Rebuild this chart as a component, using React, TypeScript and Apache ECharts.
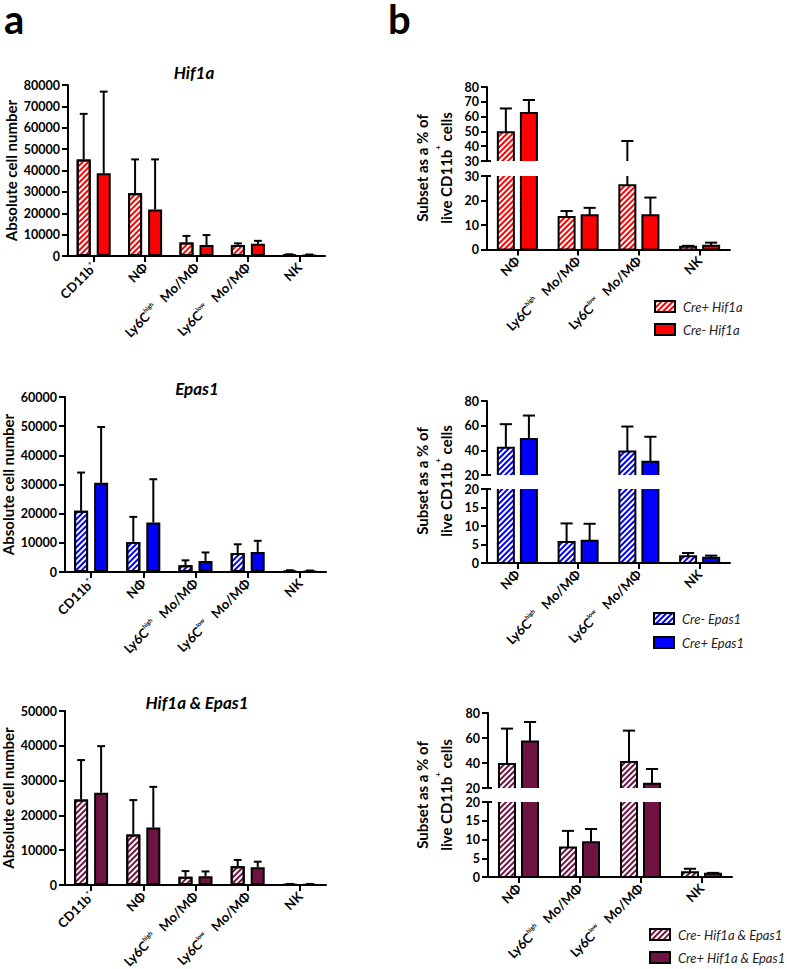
import React, { useEffect, useRef } from 'react';
import * as echarts from 'echarts';

// ---------- categories ----------
const catsA = ['CD11b+', 'NΦ', 'Ly6Chigh Mo/MΦ', 'Ly6Clow Mo/MΦ', 'NK'];
const catsB = ['NΦ', 'Ly6Chigh Mo/MΦ', 'Ly6Clow Mo/MΦ', 'NK'];

// ---------- panel a: absolute cell number (mean, error) ----------
const hifAbsCreP = [45200, 29300, 6300, 5200, 600];
const hifAbsCrePErr = [21300, 15900, 3100, 700, 200];
const hifAbsCreM = [38700, 21800, 5100, 5700, 500];
const hifAbsCreMErr = [38200, 23400, 4700, 1400, 200];

const epasAbsCreM = [21000, 10300, 2300, 6500, 400];
const epasAbsCreMErr = [13100, 8600, 1700, 3000, 200];
const epasAbsCreP = [30600, 17000, 3800, 6900, 400];
const epasAbsCrePErr = [19100, 14800, 2900, 3800, 100];

const dkoAbsCreM = [24600, 14500, 2400, 5400, 200];
const dkoAbsCreMErr = [11300, 9900, 1600, 1800, 100];
const dkoAbsCreP = [26500, 16500, 2500, 5100, 200];
const dkoAbsCrePErr = [13400, 11700, 1400, 1600, 100];

// ---------- panel b: % of live CD11b+ (mean, error) ----------
const hifPctCreP = [49.5, 13.3, 26.2, 1.1];
const hifPctCrePErr = [16.0, 2.4, 17.3, 0.4];
const hifPctCreM = [62.4, 14.0, 14.0, 1.5];
const hifPctCreMErr = [8.8, 3.0, 7.2, 1.3];

const epasPctCreM = [42.1, 5.7, 39.1, 1.8];
const epasPctCreMErr = [19.1, 5.0, 20.2, 0.9];
const epasPctCreP = [49.1, 6.0, 30.8, 1.4];
const epasPctCrePErr = [19.1, 4.6, 20.2, 0.6];

const dkoPctCreM = [39.2, 7.9, 40.8, 1.3];
const dkoPctCreMErr = [28.3, 4.4, 25.1, 0.9];
const dkoPctCreP = [57.3, 9.3, 23.5, 0.9];
const dkoPctCrePErr = [15.5, 3.5, 11.7, 0.2];

// ---------- axis ranges [min, max, interval] ----------
const hifAbsAxis = [0, 80000, 10000];
const epasAbsAxis = [0, 60000, 10000];
const dkoAbsAxis = [0, 50000, 10000];
const hifPctLower = [0, 30, 10];
const hifPctUpper = [30, 80, 10];
const epasPctLower = [0, 20, 5];
const epasPctUpper = [20, 80, 20];
const dkoPctLower = [0, 20, 5];
const dkoPctUpper = [20, 80, 20];

// ---------- titles / legend names ----------
const titles = ['Hif1a', 'Epas1', 'Hif1a & Epas1'];
const legendHif = ['Cre+ Hif1a', 'Cre- Hif1a'];
const legendEpas = ['Cre- Epas1', 'Cre+ Epas1'];
const legendDko = ['Cre- Hif1a & Epas1', 'Cre+ Hif1a & Epas1'];

const RED = '#FF0000';
const BLUE = '#0000FF';
const MAROON = '#6E1342';
const FONT = 'Lato';

function catLabel(v: string) {
  let m = v.match(/^(CD11b)\+$/);
  if (m) return `{n|${m[1]}}{sup|+}`;
  m = v.match(/^(Ly6C)(high|low) (.*)$/);
  if (m) return `{n|${m[1]}}{sup|${m[2]}}{n|   ${m[3]}}`;
  return `{n|${v}}`;
}

const richX = {
  n: { fontFamily: FONT, fontWeight: 'bold', fontSize: 13, color: '#000', lineHeight: 15 },
  sup: { fontFamily: FONT, fontWeight: 'bold', fontSize: 6, color: '#000', verticalAlign: 'top', lineHeight: 6 },
};

function stripes(color: string) {
  return {
    symbol: 'rect',
    symbolSize: 1,
    color,
    dashArrayX: [1, 0],
    dashArrayY: [1.5, 1.5],
    rotation: -Math.PI / 4,
  };
}

function buildOption() {
  const grid: any[] = [];
  const xAxis: any[] = [];
  const yAxis: any[] = [];
  const series: any[] = [];
  const graphic: any[] = [];

  const axisLineStyle = { color: '#000', width: 2 };

  function addGrid(rect: any, cats: string[], range: number[], showX: boolean, yName?: string) {
    const gi = grid.length;
    grid.push({ ...rect, outerBoundsMode: 'none', containLabel: false });
    xAxis.push({
      type: 'category',
      gridIndex: gi,
      data: cats,
      show: showX,
      axisLine: { show: true, lineStyle: axisLineStyle },
      axisTick: { show: true, alignWithLabel: true, length: 6, lineStyle: axisLineStyle },
      axisLabel: { rotate: 45, interval: 0, margin: 9, formatter: catLabel, rich: richX },
      splitLine: { show: false },
    });
    yAxis.push({
      type: 'value',
      gridIndex: gi,
      min: range[0],
      max: range[1],
      interval: range[2],
      axisLine: { show: true, lineStyle: axisLineStyle },
      axisTick: { show: true, length: 6, lineStyle: axisLineStyle },
      axisLabel: {
        fontFamily: FONT, fontWeight: 'bold', fontSize: 12.5, color: '#000', margin: 8,
        formatter: (v: number) => String(v),
      },
      splitLine: { show: false },
      name: yName,
      nameLocation: 'middle',
      nameGap: 50,
      nameTextStyle: { fontFamily: FONT, fontWeight: 'bold', fontSize: 15, color: '#000' },
    });
    return gi;
  }

  function errRender(offset: number, capHalf: number, yMin: number, yMax: number) {
    return (params: any, api: any) => {
      const ci = api.value(0);
      const m = api.value(1);
      const e = api.value(2);
      const lo = Math.max(m, yMin);
      const hi = Math.min(m + e, yMax);
      if (hi <= lo) return null;
      const p1 = api.coord([ci, lo]);
      const p2 = api.coord([ci, hi]);
      const x = p1[0] + offset;
      const children: any[] = [
        { type: 'line', shape: { x1: x, y1: p1[1], x2: x, y2: p2[1] }, style: { stroke: '#000', lineWidth: 2 } },
      ];
      if (m + e <= yMax) {
        children.push({ type: 'line', shape: { x1: x - capHalf, y1: p2[1], x2: x + capHalf, y2: p2[1] }, style: { stroke: '#000', lineWidth: 2 } });
      }
      return { type: 'group', children };
    };
  }

  function frameRender(offset: number, halfW: number, yMin: number, yMax: number) {
    return (params: any, api: any) => {
      const ci = api.value(0);
      const m = api.value(1);
      const lo = Math.max(0, yMin);
      const hi = Math.min(m, yMax);
      if (hi <= lo) return null;
      const p1 = api.coord([ci, lo]);
      const p2 = api.coord([ci, hi]);
      const x = p1[0] + offset;
      const st = { stroke: '#000', lineWidth: 2, fill: null };
      const children: any[] = [];
      if (m <= yMax) {
        children.push({ type: 'polyline', shape: { points: [[x - halfW, p1[1]], [x - halfW, p2[1]], [x + halfW, p2[1]], [x + halfW, p1[1]]] }, style: st });
      } else {
        children.push({ type: 'line', shape: { x1: x - halfW, y1: p1[1], x2: x - halfW, y2: p2[1] }, style: st });
        children.push({ type: 'line', shape: { x1: x + halfW, y1: p1[1], x2: x + halfW, y2: p2[1] }, style: st });
      }
      if (yMin <= 0) {
        children.push({ type: 'line', shape: { x1: x - halfW, y1: p1[1], x2: x + halfW, y2: p1[1] }, style: st });
      }
      return { type: 'group', children };
    };
  }

  function addBars(gi: number, name: string, means: number[], errs: number[], color: string, hatched: boolean,
    barW: number, gapFrac: number, idx: number, range: number[], framed: boolean, capFrac: number) {
    const offset = (idx === 0 ? -1 : 1) * barW * (1 + gapFrac) / 2;
    series.push({
      type: 'bar',
      name,
      xAxisIndex: gi,
      yAxisIndex: gi,
      data: means,
      barWidth: barW,
      barGap: `${gapFrac * 100}%`,
      clip: true,
      silent: true,
      z: 2,
      itemStyle: hatched
        ? { color: '#FFFFFF', borderColor: '#000', borderWidth: framed ? 0 : 2, decal: stripes(color) }
        : { color, borderColor: '#000', borderWidth: framed ? 0 : 2 },
    });
    const d = means.map((m, i) => [i, m, errs[i]]);
    if (framed) {
      series.push({
        type: 'custom',
        name: name + ' frame',
        xAxisIndex: gi,
        yAxisIndex: gi,
        data: d,
        z: 3,
        silent: true,
        encode: { x: 0, y: 1 },
        renderItem: frameRender(offset, barW / 2, range[0], range[1]),
      });
    }
    series.push({
      type: 'custom',
      name: name + ' error',
      xAxisIndex: gi,
      yAxisIndex: gi,
      data: d,
      z: 4,
      silent: true,
      encode: { x: 0, y: 1 },
      renderItem: errRender(offset, barW * capFrac, range[0], range[1]),
    });
  }

  // ----- panel a -----
  const aBarW = 14;
  const aGap = 0.43;
  const aPanels = [
    { rect: { left: 68, top: 85, width: 257, height: 171 }, range: hifAbsAxis, color: RED,
      s: [[legendHif[0], hifAbsCreP, hifAbsCrePErr, true], [legendHif[1], hifAbsCreM, hifAbsCreMErr, false]] },
    { rect: { left: 65, top: 397, width: 261, height: 175 }, range: epasAbsAxis, color: BLUE,
      s: [[legendEpas[0], epasAbsCreM, epasAbsCreMErr, true], [legendEpas[1], epasAbsCreP, epasAbsCrePErr, false]] },
    { rect: { left: 65, top: 711, width: 261, height: 174 }, range: dkoAbsAxis, color: MAROON,
      s: [[legendDko[0], dkoAbsCreM, dkoAbsCreMErr, true], [legendDko[1], dkoAbsCreP, dkoAbsCrePErr, false]] },
  ];
  aPanels.forEach((p) => {
    const gi = addGrid(p.rect, catsA, p.range, true, 'Absolute cell number');
    p.s.forEach((s: any, k: number) => addBars(gi, s[0], s[1], s[2], p.color, s[3], aBarW, aGap, k, p.range, false, 0.28));
  });

  // ----- panel b (broken axis: upper + lower grids) -----
  const bBarW = 16;
  const bGap = 0.44;
  const bPanels = [
    { upper: { left: 487, top: 87, width: 243, height: 74 }, lower: { left: 487, top: 176, width: 243, height: 73.5 },
      ur: hifPctUpper, lr: hifPctLower, color: RED,
      s: [[legendHif[0], hifPctCreP, hifPctCrePErr, true], [legendHif[1], hifPctCreM, hifPctCreMErr, false]] },
    { upper: { left: 487, top: 401, width: 243, height: 74 }, lower: { left: 487, top: 489, width: 243, height: 74 },
      ur: epasPctUpper, lr: epasPctLower, color: BLUE,
      s: [[legendEpas[0], epasPctCreM, epasPctCreMErr, true], [legendEpas[1], epasPctCreP, epasPctCrePErr, false]] },
    { upper: { left: 488, top: 713, width: 244, height: 75 }, lower: { left: 488, top: 802, width: 244, height: 75 },
      ur: dkoPctUpper, lr: dkoPctLower, color: MAROON,
      s: [[legendDko[0], dkoPctCreM, dkoPctCreMErr, true], [legendDko[1], dkoPctCreP, dkoPctCrePErr, false]] },
  ];
  const breakMark = (x: number, y: number) => ({
    type: 'line', shape: { x1: x - 6, y1: y, x2: x + 4, y2: y }, style: { stroke: '#000', lineWidth: 2 }, z: 10,
  });
  bPanels.forEach((p) => {
    const gu = addGrid(p.upper, catsB, p.ur, false);
    const gl = addGrid(p.lower, catsB, p.lr, true);
    p.s.forEach((s: any, k: number) => {
      addBars(gu, s[0], s[1], s[2], p.color, s[3], bBarW, bGap, k, p.ur, true, 0.38);
      addBars(gl, s[0], s[1], s[2], p.color, s[3], bBarW, bGap, k, p.lr, true, 0.38);
    });
    graphic.push(breakMark(p.upper.left, p.upper.top + p.upper.height));
    graphic.push(breakMark(p.lower.left, p.lower.top));
  });

  const legendBase = {
    orient: 'vertical',
    icon: 'rect',
    itemWidth: 20,
    itemHeight: 11,
    padding: 0,
    selectedMode: false,
    itemStyle: { borderColor: '#000', borderWidth: 2 },
    textStyle: { fontFamily: FONT, fontStyle: 'italic', fontSize: 13, color: '#222', padding: [0, 0, 0, 3] },
  };
  const legend = [
    { ...legendBase, left: 654, top: 300, itemGap: 10, data: legendHif },
    { ...legendBase, left: 653, top: 612, itemGap: 11, data: legendEpas },
    { ...legendBase, left: 649, top: 928, itemGap: 10, data: legendDko },
  ];

  const yNameB = {
    text: '{n|Subset as a % of}\n{n|live CD11b}{sup|+}{n| cells}',
    rich: {
      n: { fontFamily: FONT, fontWeight: 'bold', fontSize: 15, fill: '#000', lineHeight: 24 },
      sup: { fontFamily: FONT, fontWeight: 'bold', fontSize: 8, fill: '#000', verticalAlign: 'top', lineHeight: 14 },
    },
    align: 'center',
    verticalAlign: 'middle',
  };

  graphic.push(
    { type: 'text', x: 4, y: 19, style: { text: 'a', font: `bold 40px ${FONT}`, lineHeight: 30, fill: '#000', verticalAlign: 'middle' } },
    { type: 'text', x: 388, y: 19, style: { text: 'b', font: `bold 40px ${FONT}`, lineHeight: 30, fill: '#000', verticalAlign: 'middle' } },
    { type: 'text', x: 194, y: 72, style: { text: titles[0], font: `italic bold 17px ${FONT}`, fill: '#000', align: 'center', verticalAlign: 'middle' } },
    { type: 'text', x: 197, y: 388, style: { text: titles[1], font: `italic bold 17px ${FONT}`, fill: '#000', align: 'center', verticalAlign: 'middle' } },
    { type: 'text', x: 197, y: 702, style: { text: titles[2], font: `italic bold 17px ${FONT}`, fill: '#000', align: 'center', verticalAlign: 'middle' } },
    { type: 'text', x: 434, y: 168, rotation: Math.PI / 2, style: yNameB },
    { type: 'text', x: 434, y: 481, rotation: Math.PI / 2, style: yNameB },
    { type: 'text', x: 434, y: 795, rotation: Math.PI / 2, style: yNameB },
  );

  return {
    animation: false,
    backgroundColor: '#fff',
    grid,
    xAxis,
    yAxis,
    series,
    legend,
    graphic,
  };
}

export default function App() {
  const ref = useRef<HTMLDivElement>(null);
  useEffect(() => {
    if (!ref.current) return;
    const chart = echarts.init(ref.current, undefined, { renderer: 'svg' });
    chart.setOption(buildOption() as any);
    return () => chart.dispose();
  }, []);
  return (
    <div
      ref={ref}
      style={{ position: 'absolute', left: 0, top: 0, width: 787, height: 969 }}
    />
  );
}
